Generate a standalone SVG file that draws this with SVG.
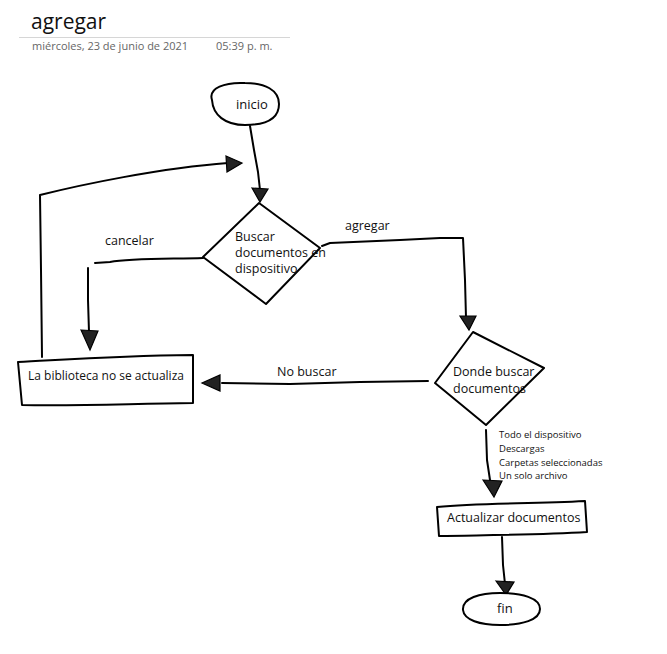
<svg xmlns="http://www.w3.org/2000/svg" width="667" height="654" viewBox="0 0 667 654">
<style>
.t{font-family:"Open Sans","Liberation Sans",sans-serif;fill:#111}
.n{fill:#fff;stroke:#000;stroke-width:2;stroke-linejoin:round}
.c{fill:none;stroke:#000;stroke-width:2;stroke-linecap:round;stroke-linejoin:round}
.a{fill:#222;stroke:#000;stroke-width:1.2}
</style>
<rect width="667" height="654" fill="#fff"/>
<g id="header">
<text class="t" x="31" y="29" font-size="21">agregar</text>
<line x1="19" y1="37.5" x2="290" y2="37.5" stroke="#d6d6d6" stroke-width="1"/>
<text class="t" x="32" y="50" font-size="11" style="fill:#666">miércoles, 23 de junio de 2021</text>
<text class="t" x="216" y="50" font-size="11" style="fill:#666">05:39 p. m.</text>
</g>
<g id="connectors">
<path class="c" d="M250,126 L254,150 L258,172 L260,190"/>
<path class="c" d="M42,357 L41,270 L40,195 C80,185 160,168 228,163"/>
<path class="c" d="M203,258 C170,259 130,258 110,262 L95,263"/>
<path class="c" d="M88,268 L88,300 L89,332"/>
<path class="c" d="M322,246 L330,243 L400,240 L440,238 L463,238 L465,280 L466,318"/>
<path class="c" d="M428,381 L360,382 L290,384 L222,383"/>
<path class="c" d="M486,430 L487,460 L490,480"/>
<path class="c" d="M502,537 L503,565 L505,584"/>
<polygon class="a" points="252,188 268,189 260,202"/>
<polygon class="a" points="226,156 242,163 227,172"/>
<polygon class="a" points="81,330 98,331 90,350"/>
<polygon class="a" points="460,316 476,316 469,330"/>
<polygon class="a" points="220,375 220,391 202,383"/>
<polygon class="a" points="483,480 502,481 494,497"/>
<polygon class="a" points="496,581 514,582 506,595"/>
<text class="t" x="345" y="230" font-size="12.5">agregar</text>
<text class="t" x="105" y="245" font-size="12.5">cancelar</text>
<text class="t" x="277" y="376" font-size="12.5">No buscar</text>
<text class="t" x="499" y="438" font-size="9.5">Todo el dispositivo</text>
<text class="t" x="499" y="452" font-size="9.5">Descargas</text>
<text class="t" x="499" y="466" font-size="9.5">Carpetas seleccionadas</text>
<text class="t" x="499" y="479" font-size="9.5">Un solo archivo</text>
</g>
<g id="inicio">
<path class="n" d="M212,100 C208,88 225,82 245,83 C265,83 279,90 279,104 C279,119 265,125 245,125 C225,125 213,115 212,100 Z"/>
<text class="t" x="236" y="109" font-size="13">inicio</text>
</g>
<g id="buscar">
<path class="n" d="M259,203 L320,248 L266,304 L203,257 Z"/>
<text class="t" x="235" y="241" font-size="12.5">Buscar</text>
<text class="t" x="235" y="257" font-size="12.5">documentos en</text>
<text class="t" x="235" y="273" font-size="12.5">dispositivo</text>
</g>
<g id="donde">
<path class="n" d="M473,332 L544,368 L486,425 L435,383 Z"/>
<text class="t" x="453" y="376" font-size="12.5">Donde buscar</text>
<text class="t" x="453" y="393" font-size="12.5">documentos</text>
</g>
<g id="biblioteca">
<path class="n" d="M18,362 C60,360 110,356 193,355 L193,403 C120,404 80,406 22,405 Z"/>
<text class="t" x="28" y="380" font-size="12">La biblioteca no se actualiza</text>
</g>
<g id="actualizar">
<path class="n" d="M437,507 C480,503 530,504 585,501 L587,532 C540,535 490,535 439,536 Z"/>
<text class="t" x="447" y="522" font-size="12.5">Actualizar documentos</text>
</g>
<g id="fin">
<path class="n" d="M463,610 C462,598 480,593 500,593 C522,593 540,598 540,609 C540,620 522,625 500,625 C480,625 464,620 463,610 Z"/>
<text class="t" x="497" y="613" font-size="13">fin</text>
</g>
</svg>
